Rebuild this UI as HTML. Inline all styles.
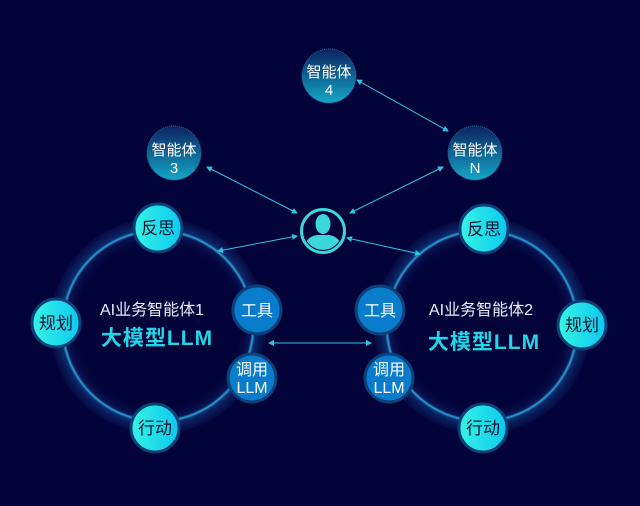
<!DOCTYPE html>
<html><head><meta charset="utf-8"><style>
html,body{margin:0;padding:0;background:#03033a;}
svg{display:block}
text{font-family:"Liberation Sans","Noto Sans CJK SC",sans-serif;}
</style></head><body>
<svg width="640" height="506" viewBox="0 0 640 506" xmlns="http://www.w3.org/2000/svg">
<defs>
<radialGradient id="ring" cx="50%" cy="50%" r="50%">
<stop offset="0.74" stop-color="#04043c" stop-opacity="0"/>
<stop offset="0.86" stop-color="#10286a" stop-opacity="0.5"/>
<stop offset="0.88" stop-color="#2aa8e0"/>
<stop offset="0.90" stop-color="#0c2c6c"/>
<stop offset="1" stop-color="#081650" stop-opacity="0.4"/>
</radialGradient>
<linearGradient id="cy" x1="0" y1="0" x2="1" y2="0"><stop offset="0" stop-color="#36f4e4"/><stop offset="1" stop-color="#0cc8f0"/></linearGradient>
<linearGradient id="ag" x1="0" y1="0" x2="0" y2="1"><stop offset="0" stop-color="#0b2260"/><stop offset="1" stop-color="#14a8c8"/></linearGradient>
<marker id="ar" markerWidth="6" markerHeight="6" refX="5" refY="3" orient="auto-start-reverse" markerUnits="userSpaceOnUse"><path d="M0,0 L6,3 L0,6z" fill="#2cc6e0"/></marker>
<clipPath id="uc"><circle cx="323" cy="231" r="19"/></clipPath>
</defs>
<rect width="640" height="506" fill="#03033a"/>

<circle cx="158" cy="326" r="108" fill="url(#ring)"/>
<circle cx="482" cy="326" r="108" fill="url(#ring)"/>

<g stroke="#2cc6e0" stroke-width="1" fill="none" marker-start="url(#ar)" marker-end="url(#ar)">
<line x1="357" y1="80" x2="448" y2="131"/>
<line x1="207" y1="167" x2="297" y2="213"/>
<line x1="443" y1="167" x2="350" y2="213"/>
<line x1="297" y1="236" x2="218" y2="251"/>
<line x1="347" y1="238" x2="420" y2="254"/>
<line x1="269" y1="343" x2="371" y2="343"/>
</g>

<g fill="url(#ag)" stroke="#1a6a9a" stroke-width="1" stroke-dasharray="1 1">
<circle cx="329" cy="76" r="27"/><circle cx="174" cy="153" r="27"/><circle cx="475" cy="153" r="27"/>
</g>
<g fill="#fff" font-size="15" text-anchor="middle">
<text x="329" y="77">智能体</text><text x="329" y="95">4</text>
<text x="174" y="155">智能体</text><text x="174" y="173">3</text>
<text x="475" y="155">智能体</text><text x="475" y="173">N</text>
</g>

<circle cx="323" cy="231" r="21.5" fill="none" stroke="#3cd6dc" stroke-width="3"/>
<g clip-path="url(#uc)" fill="#3cd6dc">
<ellipse cx="323" cy="224" rx="7.5" ry="10"/>
<path d="M304,252 Q304,237 317,235 L329,235 Q342,237 342,252z"/>
</g>

<g fill="url(#cy)" stroke="#0b3f78" stroke-width="3">
<circle cx="158" cy="228" r="24"/><circle cx="56" cy="323" r="24"/><circle cx="155" cy="428" r="24"/>
<circle cx="484" cy="229" r="24"/><circle cx="582" cy="325" r="24"/><circle cx="483" cy="428" r="24"/>
</g>
<g fill="#0a1530" font-size="17" text-anchor="middle">
<text x="158" y="234">反思</text><text x="56" y="329">规划</text><text x="155" y="434">行动</text>
<text x="484" y="235">反思</text><text x="582" y="331">规划</text><text x="483" y="434">行动</text>
</g>

<g fill="#0a7ccc" stroke="#0b3f78" stroke-width="3">
<circle cx="257" cy="310" r="24"/><circle cx="252" cy="378" r="24"/>
<circle cx="380" cy="310" r="24"/><circle cx="389" cy="378" r="24"/>
</g>
<g fill="#fff" font-size="16" text-anchor="middle">
<text x="257" y="316">工具</text><text x="252" y="375">调用</text><text x="252" y="393">LLM</text>
<text x="380" y="316">工具</text><text x="389" y="375">调用</text><text x="389" y="393">LLM</text>
</g>

<g text-anchor="middle">
<text x="152" y="315" fill="#e8eef8" font-size="16">AI业务智能体1</text>
<text x="157" y="345" fill="#22d6e8" font-size="21" font-weight="bold" letter-spacing="1">大模型LLM</text>
<text x="481" y="315" fill="#e8eef8" font-size="16">AI业务智能体2</text>
<text x="484" y="349" fill="#22d6e8" font-size="21" font-weight="bold" letter-spacing="1">大模型LLM</text>
</g>
</svg>
</body></html>
